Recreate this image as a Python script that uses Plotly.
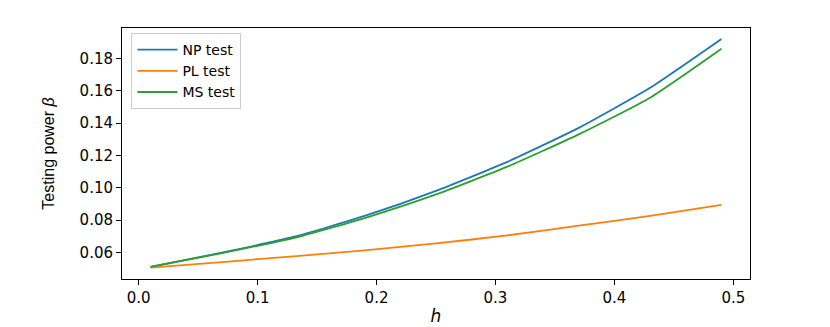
import plotly.graph_objects as go

h = [0.01, 0.07, 0.13, 0.19, 0.25, 0.31, 0.37, 0.43, 0.49]
np_test = [0.0510, 0.0598, 0.0695, 0.0825, 0.0980, 0.1160, 0.1370, 0.1618, 0.1920]
pl_test = [0.0505, 0.0540, 0.0575, 0.0612, 0.0655, 0.0705, 0.0765, 0.0825, 0.0893]
ms_test = [0.0510, 0.0595, 0.0688, 0.0812, 0.0958, 0.1130, 0.1330, 0.1557, 0.1860]
x_ticks = [0.0, 0.1, 0.2, 0.3, 0.4, 0.5]
y_ticks = [0.06, 0.08, 0.10, 0.12, 0.14, 0.16, 0.18]

fig = go.Figure()
for name, ys, col in [("NP test", np_test, "#1f77b4"),
                      ("PL test", pl_test, "#ff7f0e"),
                      ("MS test", ms_test, "#2ca02c")]:
    fig.add_trace(go.Scatter(x=h, y=ys, mode="lines", name=name,
                             line=dict(color=col, width=1.8, shape="spline", smoothing=0.5)))

axis_common = dict(showgrid=False, zeroline=False, showline=True, linecolor="black",
                   linewidth=1, mirror=True, ticks="outside", ticklen=5, automargin=False,
                   tickcolor="black", tickfont=dict(family="DejaVu Sans", size=15, color="black"))
fig.update_xaxes(range=[-0.014, 0.514], tickvals=x_ticks,
                 ticktext=[f"{v:.1f}" for v in x_ticks],
                 title=dict(text="<i>h</i>", font=dict(family="DejaVu Sans", size=17, color="black"),
                            standoff=4),
                 **axis_common)
fig.update_yaxes(range=[0.0435, 0.1988], tickvals=y_ticks,
                 ticktext=[f"{v:.2f}" for v in y_ticks],
                 title=dict(text="Testing power <i>β</i>",
                            font=dict(family="Liberation Sans Narrow, Liberation Sans", size=16, color="black"),
                            standoff=20),
                 **axis_common)
fig.update_layout(
    width=830, height=327,
    margin=dict(l=122, r=80, t=28, b=48),
    paper_bgcolor="white", plot_bgcolor="white",
    legend=dict(x=0.015, y=0.98, xanchor="left", yanchor="top",
                bgcolor="rgba(255,255,255,0.8)", bordercolor="#cccccc", borderwidth=1,
                font=dict(family="DejaVu Sans", size=14, color="black"),
                tracegroupgap=0, itemwidth=40),
    showlegend=True,
)
fig.write_html("out.html", config={"displayModeBar": False},
               post_script="document.body.style.margin='0';document.body.style.overflow='hidden';")
